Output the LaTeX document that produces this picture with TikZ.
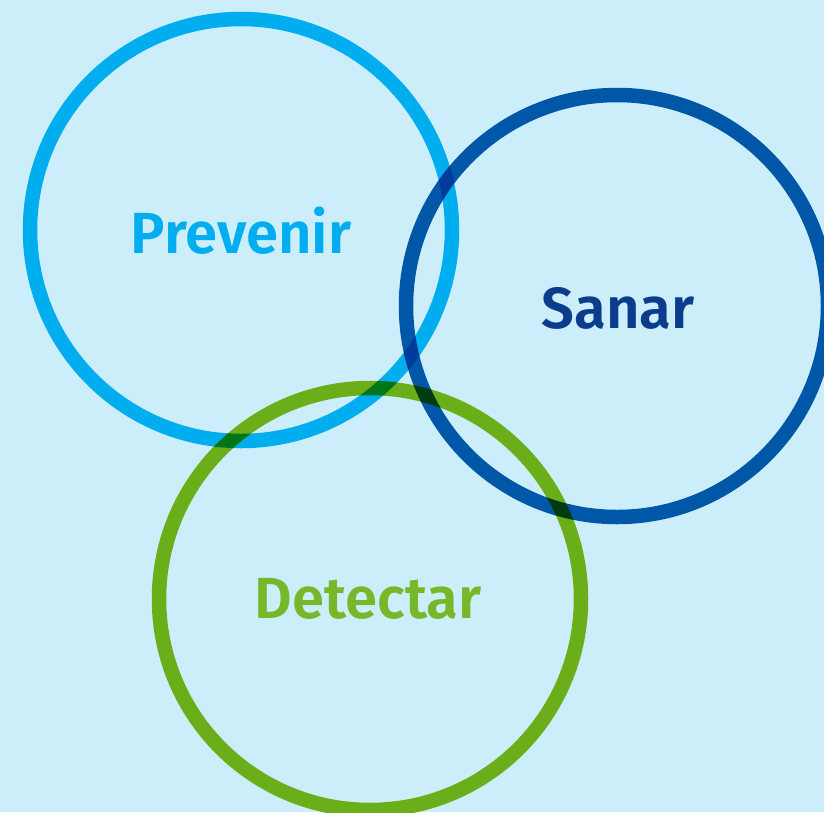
\documentclass[tikz,border=0pt]{standalone}
\usepackage{fontspec}
\newfontfamily\lblfont{Fira Sans SemiBold}
\definecolor{bgc}{HTML}{CCEEFA}
\definecolor{cyanc}{HTML}{00ADEE}
\definecolor{bluec}{HTML}{0057A8}
\definecolor{greenc}{HTML}{6AAE1A}
\definecolor{sanartxt}{HTML}{0B3D8C}
\definecolor{dettxt}{HTML}{76B82A}
\tikzset{
  ring/.style={line width=14.5pt, blend mode=multiply},
  lbl/.style={font=\lblfont\fontsize{58}{58}\selectfont, inner sep=0pt}
}
\begin{document}
\begin{tikzpicture}[x=1pt,y=-1pt]
\fill[bgc] (0,0) rectangle (824,812);
\useasboundingbox (0,0) rectangle (824,812);
\begin{scope}
\clip (0,0) rectangle (824,812);
\begin{scope}[transparency group]
\draw[ring, cyanc] (241,230) circle[radius=211];
\draw[ring, bluec] (617,306) circle[radius=211];
\draw[ring, greenc] (370,599) circle[radius=211];
\end{scope}
\end{scope}
\node[lbl, text=cyanc, anchor=base] (prev) at (241,253) {Prevenir};
\node[lbl, text=sanartxt, anchor=base] (sanar) at (618,328) {Sanar};
\node[lbl, text=dettxt, anchor=base] (det) at (368,618) {Detectar};
\end{tikzpicture}
\end{document}
